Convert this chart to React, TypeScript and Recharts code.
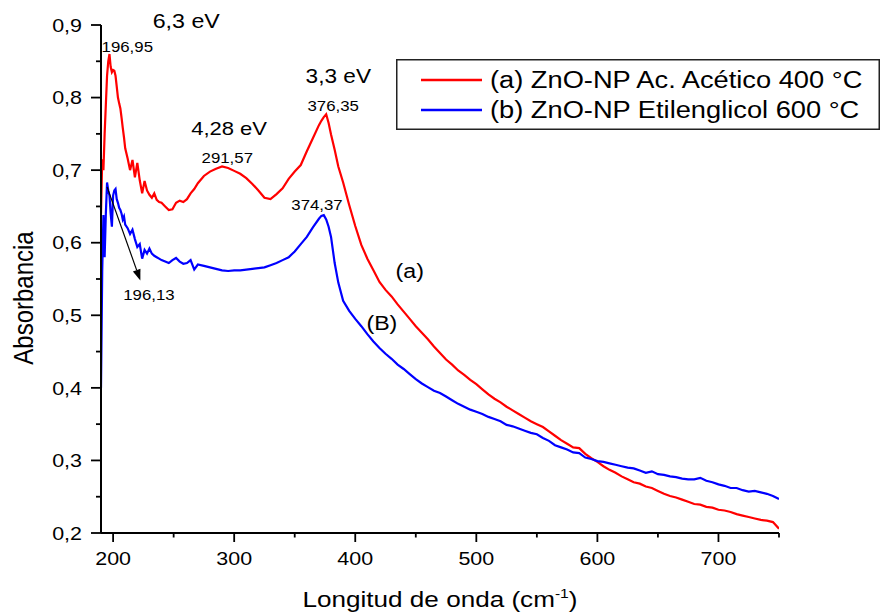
import React from 'react';
import { LineChart, Line, XAxis, YAxis, Legend, ReferenceDot, ReferenceLine } from 'recharts';

const FONT = "'Liberation Sans', Arial, Helvetica, sans-serif";
const SX = 1.16;

// Wavelength sampling grid (nm)
const wavelengths = [
  190, 191, 192, 193, 194, 195, 196, 197, 198, 199, 200, 201, 202, 203, 204, 205, 206, 207, 208, 209, 210,
  212, 214, 216, 218, 220, 222, 224, 226, 228, 230, 232, 234, 236, 238, 240,
  243, 246, 249, 252, 255, 258, 261, 264, 267,
  270, 275, 280, 285, 290, 295, 300, 305, 310, 315, 320, 325, 330, 335, 340, 345, 350, 355, 360, 365, 370,
  372, 374, 376, 378, 380, 383, 386, 390, 395,
  400, 405, 410, 415, 420, 425, 430, 435, 440, 445, 450, 455, 460, 465, 470, 475, 480, 485, 490, 495,
  500, 505, 510, 515, 520, 525, 530, 535, 540, 545, 550, 555, 560, 565, 570, 575, 580, 585, 590, 595,
  600, 605, 610, 615, 620, 625, 630, 635, 640, 645, 650, 655, 660, 665, 670, 675, 680, 685, 690, 695,
  700, 705, 710, 715, 720, 725, 730, 735, 740, 745, 750,
];

// (a) ZnO-NP Ac. Acético 400 °C
const absA = [
  0.64, 0.715, 0.70, 0.75, 0.79, 0.83, 0.85, 0.86, 0.842, 0.835, 0.838, 0.837, 0.83, 0.815, 0.80, 0.792, 0.785, 0.772, 0.758, 0.745, 0.73,
  0.716, 0.70, 0.714, 0.69, 0.71, 0.686, 0.668, 0.685, 0.672, 0.666, 0.662, 0.668, 0.659, 0.656, 0.655,
  0.65, 0.645, 0.646, 0.655, 0.658, 0.656, 0.66, 0.668, 0.674,
  0.682, 0.692, 0.698, 0.702, 0.705, 0.703, 0.699, 0.695, 0.689, 0.681, 0.672, 0.662, 0.66, 0.667, 0.675, 0.688, 0.698, 0.707, 0.726, 0.744, 0.762,
  0.768, 0.773, 0.777, 0.765, 0.749, 0.728, 0.705, 0.683, 0.652,
  0.623, 0.597, 0.578, 0.562, 0.546, 0.535, 0.526, 0.515, 0.505, 0.495, 0.485, 0.476, 0.467, 0.457, 0.448, 0.439, 0.432, 0.424, 0.418, 0.411,
  0.405, 0.398, 0.391, 0.385, 0.38, 0.374, 0.369, 0.364, 0.359, 0.354, 0.35, 0.346, 0.34, 0.334, 0.328, 0.323, 0.318, 0.317, 0.309, 0.303,
  0.298, 0.292, 0.287, 0.283, 0.278, 0.274, 0.27, 0.268, 0.264, 0.262, 0.258, 0.254, 0.251, 0.249, 0.246, 0.243, 0.24, 0.239, 0.236, 0.235,
  0.232, 0.231, 0.229, 0.226, 0.224, 0.222, 0.22, 0.218, 0.217, 0.215, 0.206,
];

// (b) ZnO-NP Etilenglicol 600 °C
const absB = [
  0.40, 0.56, 0.638, 0.58, 0.64, 0.683, 0.672, 0.665, 0.64, 0.622, 0.665, 0.672, 0.674, 0.66, 0.655, 0.648, 0.645, 0.64, 0.632, 0.636, 0.625,
  0.62, 0.612, 0.618, 0.605, 0.594, 0.598, 0.578, 0.59, 0.585, 0.592, 0.585, 0.582, 0.58, 0.578, 0.576,
  0.574, 0.572, 0.576, 0.579, 0.574, 0.571, 0.572, 0.576, 0.563,
  0.57, 0.568, 0.566, 0.564, 0.562, 0.561, 0.562, 0.562, 0.563, 0.564, 0.565, 0.566, 0.569, 0.572, 0.576, 0.58, 0.588, 0.598, 0.608, 0.621, 0.633,
  0.637, 0.638, 0.632, 0.622, 0.608, 0.572, 0.545, 0.52, 0.506,
  0.495, 0.485, 0.474, 0.464, 0.455, 0.447, 0.44, 0.432, 0.426, 0.419, 0.412, 0.406, 0.401, 0.396, 0.393, 0.388, 0.383, 0.378, 0.374, 0.37,
  0.367, 0.364, 0.36, 0.357, 0.354, 0.349, 0.347, 0.344, 0.341, 0.338, 0.336, 0.331, 0.327, 0.321, 0.318, 0.315, 0.311, 0.31, 0.304, 0.302,
  0.299, 0.298, 0.296, 0.294, 0.292, 0.29, 0.289, 0.286, 0.283, 0.285, 0.281, 0.28, 0.278, 0.277, 0.275, 0.274, 0.274, 0.276, 0.272, 0.27,
  0.267, 0.265, 0.262, 0.262, 0.259, 0.257, 0.258, 0.256, 0.254, 0.251, 0.247,
];

const seriesNames = ['(a) ZnO-NP Ac. Acético 400 °C', '(b) ZnO-NP Etilenglicol 600 °C'];
const seriesColors = ['#ff0000', '#0000ff'];

const xTicks = [200, 250, 300, 350, 400, 450, 500, 550, 600, 650, 700, 750];
const yTicks = [0.2, 0.25, 0.3, 0.35, 0.4, 0.45, 0.5, 0.55, 0.6, 0.65, 0.7, 0.75, 0.8, 0.85, 0.9];

// Annotation texts anchored in data coordinates (center x, baseline y)
const annotations = [
  { text: '6,3 eV', wl: 260.4, abs: 0.896, size: 20, bold: false },
  { text: '196,95', wl: 211.7, abs: 0.863, size: 14.5, bold: false },
  { text: '4,28 eV', wl: 295.8, abs: 0.7486, size: 19, bold: false },
  { text: '291,57', wl: 294.3, abs: 0.7095, size: 14.5, bold: false },
  { text: '3,3 eV', wl: 386, abs: 0.82, size: 19.5, bold: false },
  { text: '376,35', wl: 381.8, abs: 0.782, size: 14.5, bold: false },
  { text: '374,37', wl: 368.4, abs: 0.645, size: 14.5, bold: false },
  { text: '196,13', wl: 229.6, abs: 0.521, size: 14.5, bold: false },
  { text: '(a)', wl: 445, abs: 0.551, size: 20, bold: false },
  { text: '(B)', wl: 422, abs: 0.4796, size: 20, bold: false },
];
const arrowFrom = { wl: 195, abs: 0.677 };
const arrowTo = { wl: 222.5, abs: 0.548 };

const data = wavelengths.map((w, i) => ({ wl: w, a: absA[i], b: absB[i] }));

function SText(props: any) {
  const { x, y, size, anchor = 'middle', bold = false, children } = props;
  return (
    <g transform={`translate(${x},${y}) scale(${SX},1)`}>
      <text
        x={0}
        y={0}
        fontSize={size}
        textAnchor={anchor}
        fontWeight="normal"
        fill="#000"
        stroke={bold ? '#000' : 'none'}
        strokeWidth={bold ? 0.45 : 0}
        fontFamily={FONT}
      >
        {children}
      </text>
    </g>
  );
}

function XTick(props: any) {
  const { x, y, payload } = props;
  const v = payload.value;
  const major = Math.round(v) % 100 === 0;
  return (
    <g>
      <line x1={x} x2={x} y1={y} y2={y + (major ? 9 : 4.5)} stroke="#000" strokeWidth={1.8} />
      {major && (
        <SText x={x} y={y + 32} size={18.5}>
          {String(v)}
        </SText>
      )}
    </g>
  );
}

function YTick(props: any) {
  const { x, y, payload } = props;
  const v = payload.value;
  const major = Math.round(v * 100) % 10 === 0;
  return (
    <g>
      <line x1={x} x2={x - (major ? 10 : 5)} y1={y} y2={y} stroke="#000" strokeWidth={1.8} />
      {major && (
        <SText x={x - 19} y={y + 6.7} size={18.5} anchor="end">
          {v.toFixed(1).replace('.', ',')}
        </SText>
      )}
    </g>
  );
}

function XTitle(p: any) {
  const vb = p.viewBox || { x: 101, y: 533, width: 678, height: 60 };
  const cx = vb.x + vb.width / 2;
  const by = vb.y + 74;
  return (
    <g transform={`translate(${cx},${by}) scale(${SX},1)`}>
      <text x={0} y={0} fontSize={22.5} textAnchor="middle" fill="#000" fontFamily={FONT}>
        Longitud de onda (cm
        <tspan dy={-9} fontSize={13.5}>-1</tspan>
        <tspan dy={9}>)</tspan>
      </text>
    </g>
  );
}

function YTitle(p: any) {
  const vb = p.viewBox || { x: 41, y: 25, width: 60, height: 508 };
  const bx = vb.x - 8;
  const cy = vb.y + vb.height / 2 + 19;
  return (
    <g transform={`translate(${bx},${cy}) scale(${SX},1) rotate(-90)`}>
      <text x={0} y={0} fontSize={24} textAnchor="middle" fill="#000" fontFamily={FONT}>
        Absorbancia
      </text>
    </g>
  );
}

function LegendBox() {
  return (
    <svg width={484} height={71} style={{ display: 'block' }}>
      <rect x={0.75} y={0.75} width={482.5} height={69.5} fill="#fff" stroke="#222" strokeWidth={1.5} />
      {seriesNames.map((n, i) => (
        <g key={n}>
          <line x1={25} x2={86} y1={21 + i * 30} y2={21 + i * 30} stroke={seriesColors[i]} strokeWidth={2.5} />
          <SText x={94} y={29.3 + i * 30} size={23.5} anchor="start">
            {n}
          </SText>
        </g>
      ))}
    </svg>
  );
}

function ArrowShape(props: any) {
  const { x1, y1, x2, y2 } = props;
  if ([x1, y1, x2, y2].some((v) => typeof v !== 'number' || isNaN(v))) return null;
  const ang = Math.atan2(y2 - y1, x2 - x1);
  const len = 11;
  const w = 4;
  const bx = x2 - len * Math.cos(ang);
  const by = y2 - len * Math.sin(ang);
  const px = -Math.sin(ang) * w;
  const py = Math.cos(ang) * w;
  return (
    <g>
      <line x1={x1} y1={y1} x2={bx} y2={by} stroke="#000" strokeWidth={1.2} />
      <polygon points={`${x2},${y2} ${bx + px},${by + py} ${bx - px},${by - py}`} fill="#000" />
    </g>
  );
}

export default function App() {
  return (
    <div style={{ position: 'absolute', left: 0, top: 0, width: 881, height: 613, background: '#fff' }}>
      <LineChart width={881} height={613} data={data} margin={{ top: 25, right: 102, bottom: 20, left: 41 }}>
        <XAxis
          dataKey="wl"
          type="number"
          domain={[190, 750]}
          ticks={xTicks}
          interval={0}
          tickSize={0}
          tickMargin={0}
          tickLine={false}
          height={60}
          axisLine={{ stroke: '#000', strokeWidth: 2 }}
          tick={<XTick />}
          label={{ content: (p: any) => <XTitle {...p} /> }}
          allowDataOverflow
        />
        <YAxis
          type="number"
          domain={[0.2, 0.9]}
          ticks={yTicks}
          interval={0}
          tickSize={0}
          tickMargin={0}
          tickLine={false}
          width={60}
          axisLine={{ stroke: '#000', strokeWidth: 2 }}
          tick={<YTick />}
          label={{ content: (p: any) => <YTitle {...p} /> }}
          allowDataOverflow
        />
        <Legend
          layout="horizontal"
          verticalAlign="middle"
          align="center"
          wrapperStyle={{ position: 'absolute', left: 396, top: 59, width: 484, height: 71 }}
          content={() => <LegendBox />}
        />
        <Line
          type="linear"
          dataKey="a"
          name={seriesNames[0]}
          stroke={seriesColors[0]}
          strokeWidth={2.2}
          dot={false}
          activeDot={false}
          isAnimationActive={false}
        />
        <Line
          type="linear"
          dataKey="b"
          name={seriesNames[1]}
          stroke={seriesColors[1]}
          strokeWidth={2.2}
          dot={false}
          activeDot={false}
          isAnimationActive={false}
        />
        <ReferenceLine
          segment={[
            { x: arrowFrom.wl, y: arrowFrom.abs },
            { x: arrowTo.wl, y: arrowTo.abs },
          ]}
          shape={(p: any) => <ArrowShape {...p} />}
          ifOverflow="visible"
        />
        {annotations.map((a) => (
          <ReferenceDot
            key={a.text}
            x={a.wl}
            y={a.abs}
            ifOverflow="visible"
            shape={(p: any) => (
              <SText x={p.cx} y={p.cy} size={a.size} bold={a.bold}>
                {a.text}
              </SText>
            )}
          />
        ))}
      </LineChart>
    </div>
  );
}
